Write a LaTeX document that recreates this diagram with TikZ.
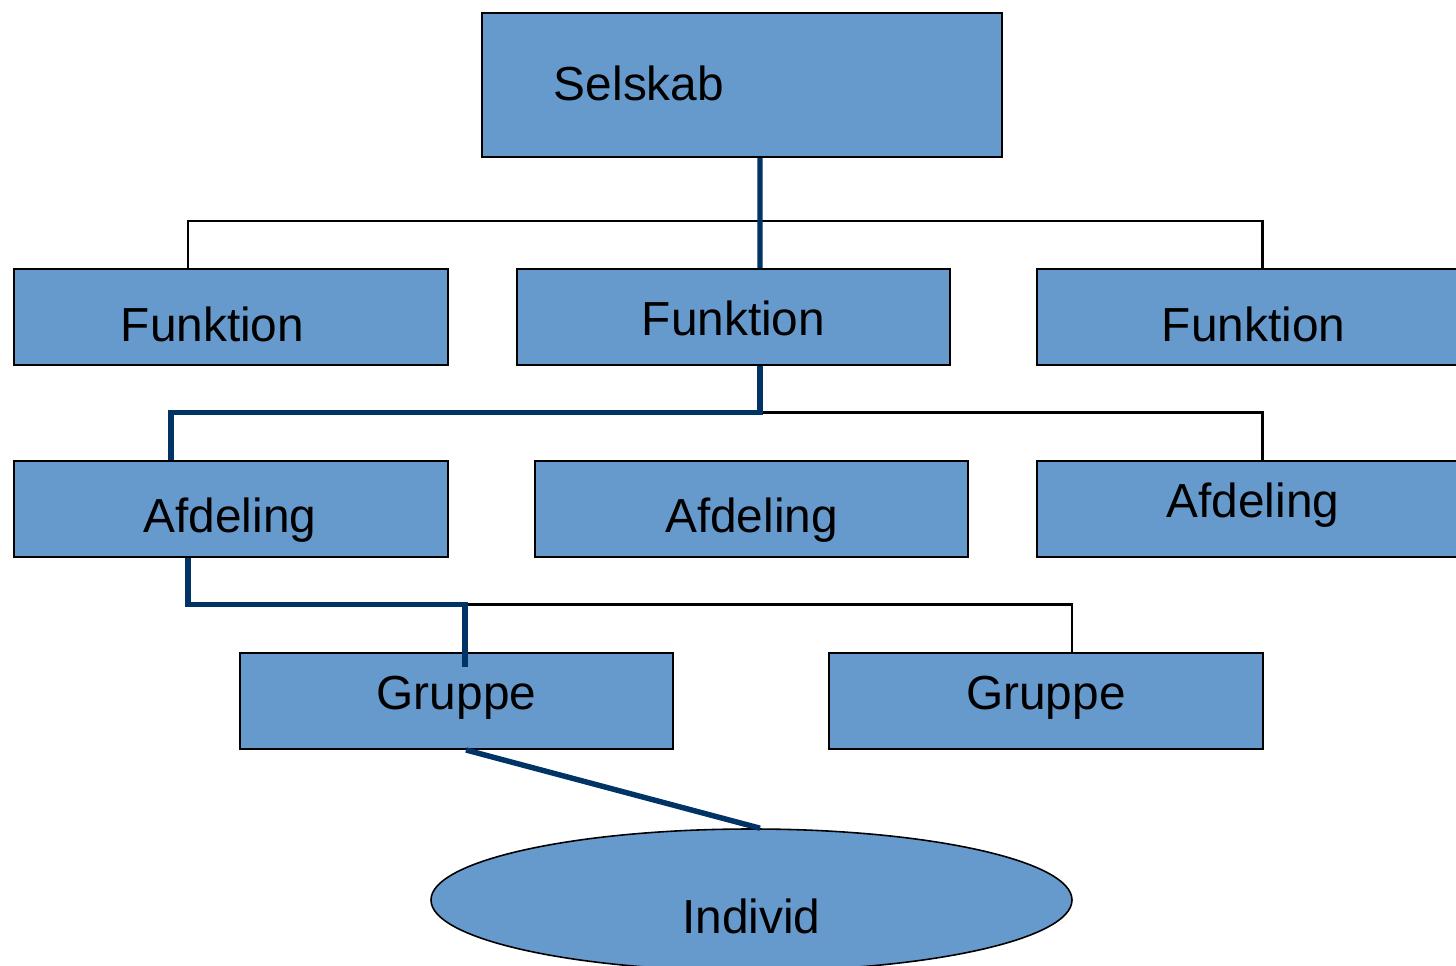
\documentclass[tikz,border=0pt]{standalone}
\usepackage{fontspec}
\setmainfont{Liberation Sans}
\usepackage{tikz}
\usetikzlibrary{shapes.geometric}
\usetikzlibrary{positioning}

\definecolor{boxblue}{RGB}{102,153,204}
\definecolor{linkblue}{RGB}{0,51,102}

\begin{document}
\begin{tikzpicture}
            \tikzset{box/.style={rectangle, draw=black, line width=1.1pt, fill=boxblue,
                        minimum width=8.68cm, minimum height=1.92cm, inner sep=0pt},
                    oval/.style={ellipse, draw=black, line width=0.9pt, fill=boxblue,
                        minimum width=12.82cm, minimum height=2.84cm, inner sep=0pt},
                    txt/.style={font=\fontsize{27.2pt}{32pt}\selectfont, text=black,
                        text height=19.5pt, text depth=0pt, inner sep=0pt},
                    wire/.style={draw=black, line width=1.3pt},
                    link/.style={draw=linkblue, line width=3.1pt}}
            \useasboundingbox (0,0) rectangle (29.12,-19.32);
            \clip (0,0) rectangle (29.12,-19.32);
            \node[box, minimum width=10.4cm, minimum height=2.88cm,
                label={[txt, xshift=-2.06cm, yshift=0.03cm]center:Selskab}] (S) at (14.84,-1.70) {};
            \node[box, label={[txt, xshift=-0.37cm, yshift=-0.14cm]center:Funktion}] (F1) at (4.62,-6.34) {};
            \node[box, minimum width=8.66cm, label={[txt, yshift=-0.02cm]center:Funktion}] (F2) at (14.67,-6.34) {};
            \node[box, label={[txt, xshift=-0.01cm, yshift=-0.14cm]center:Funktion}] (F3) at (25.08,-6.34) {};
            \node[box, label={[txt, xshift=-0.02cm, yshift=-0.12cm]center:Afdeling}] (A1) at (4.62,-10.18) {};
            \node[box, minimum width=8.66cm, label={[txt, yshift=-0.12cm]center:Afdeling}] (A2) at (15.03,-10.18) {};
            \node[box, label={[txt, xshift=-0.02cm, yshift=0.18cm]center:Afdeling}] (A3) at (25.08,-10.18) {};
            \node[box, minimum width=8.66cm, label={[txt, yshift=0.18cm]center:Gruppe}] (G1) at (9.13,-14.02) {};
            \node[box, label={[txt, yshift=0.18cm]center:Gruppe}] (G2) at (20.92,-14.02) {};
            \node[oval, label={[txt, yshift=-0.32cm]center:Individ}] (I) at (15.03,-18.00) {};
            \coordinate (j1) at (15.2,-4.42);
            \coordinate (j2) at (15.2,-8.25);
            \coordinate (j3) at (9.3,-12.09);
            % thin branches
            \path[wire] ([xshift=-0.86cm]F1.north) |- (j1) -| ([xshift=0.17cm]F3.north);
            \path[wire] (j2) -| ([xshift=0.17cm]A3.north);
            \path[wire] (j3) -| ([xshift=0.52cm]G2.north);
            % thick path down to the individual
            \path[link] ([xshift=0.36cm]S.south) -- (j1) -- (j1 |- F2.north);
            \path[link] (j2 |- F2.south) -- (j2) -| ([xshift=-1.2cm]A1.north);
            \path[link] ([xshift=-0.86cm]A1.south) |- (j3) -- ([yshift=-0.3cm]j3 |- G1.north);
            \path[link] ([xshift=0.19cm]G1.south) -- ([xshift=0.17cm]I.north);
        \end{tikzpicture}
\end{document}
